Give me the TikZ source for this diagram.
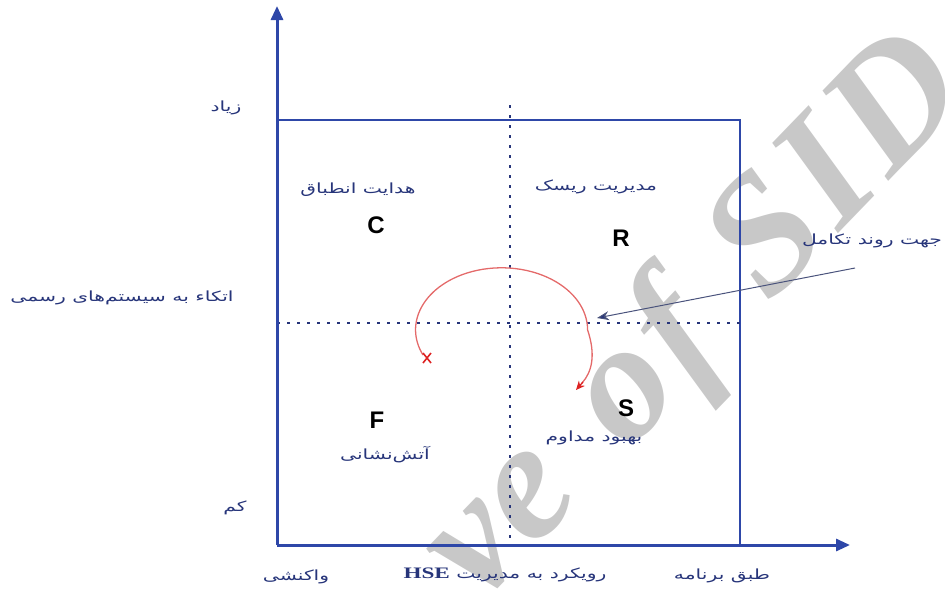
\documentclass[tikz,border=0pt]{standalone}
\usepackage{fontspec}
\setmainfont{Liberation Sans}
\newfontfamily\arabicfont[Script=Arabic]{DejaVu Sans}
\newfontfamily\wmfont{Liberation Serif}
\TeXXeTstate=1
\usetikzlibrary{arrows.meta}
\definecolor{axisblue}{HTML}{2E47A8}
\definecolor{navy}{HTML}{27357A}
\definecolor{arcred}{HTML}{E46A6A}
\definecolor{tipred}{HTML}{DD2222}
\definecolor{wm}{HTML}{C8C8C8}
\tikzset{
  axis/.style={draw=axisblue, line width=3pt},
  axisarrow/.style={axis, -{Triangle[length=14pt,width=12pt]}},
  box/.style={draw=axisblue, line width=2.6pt},
  dotline/.style={draw=navy, line width=2.2pt, dash pattern=on 3pt off 7pt},
  fa/.style={font=\arabicfont\fontsize{14}{15}\selectfont, text=navy, inner sep=1pt, xscale=1.45},
  letter/.style={font=\bfseries\fontsize{24}{26}\selectfont, text=black, inner sep=0pt},
}
\begin{document}
\begin{tikzpicture}[x=1pt,y=-1pt]
\useasboundingbox (0,0) rectangle (945,590);
% watermark
\node[text=wm, font=\wmfont\bfseries\itshape\fontsize{168}{168}\selectfont, rotate=46, anchor=south east, inner sep=0pt] (wmark) at (1000,118) {ve\hspace{0.12em} o\hspace{0.04em}f\hspace{0.1em} S\hspace{0.04em}I\hspace{0.04em}D};
% box and dotted lines
\coordinate (bl) at (277,545);
\draw[box] (277,120) -- (740,120) -- (740,545);
\coordinate (vt) at (510,105);
\coordinate (vb) at (510,545);
\coordinate (hl) at (277,323);
\coordinate (hr) at (740,323);
\draw[dotline] (vt) -- (vb);
\draw[dotline] (hl) -- (hr);
% axes
\coordinate (ytop) at (277,6);
\coordinate (xend) at (850,545);
\draw[axisarrow] (bl) -- (ytop);
\draw[axisarrow] (bl) -- (xend);
% red arc
\coordinate (arcstart) at (423,355);
\coordinate (arctip) at (576,390);
\draw[arcred, line width=1.3pt] (arcstart) arc[start angle=156, end angle=360, x radius=86, y radius=62]
  .. controls (596,355) and (592,372) .. (582,383);
\draw[tipred, line width=1.3pt, -{Stealth[length=9pt,width=8pt]}] (583,382) -- (arctip);
\draw[tipred, line width=1.6pt] (423,353) -- (431,363) (431,353) -- (423,363);
% evolution arrow
\coordinate (evs) at (855,268);
\coordinate (eve) at (597,318);
\draw[draw=navy!60!gray, line width=1pt, -{Stealth[length=12pt,width=9pt,fill=navy]}] (evs) -- (eve);
% letters
\node[letter] (C) at (376,225) {C};
\node[letter] (R) at (621,238) {R};
\node[letter] (F) at (377,420) {F};
\node[letter] (S) at (626,408) {S};
% texts
\node[fa] (high) at (226,108) {\beginR زیاد\endR};
\node[fa] (low) at (235,508) {\beginR کم\endR};
\node[fa] (ylab) at (122,298) {\beginR اتکاء به سیستم‌های رسمی\endR};
\node[fa] (tc) at (358,190) {\beginR هدایت انطباق\endR};
\node[fa] (tr2) at (596,187) {\beginR مدیریت ریسک\endR};
\node[fa] (tf) at (385,455) {\beginR آتش‌نشانی\endR};
\node[fa] (ts) at (594,438) {\beginR بهبود مداوم\endR};
\node[fa] (tev) at (872,241) {\beginR جهت روند تکامل\endR};
\node[fa] (xl) at (296,577) {\beginR واکنشی\endR};
\node[fa] (xm) at (505,575) {\beginR رویکرد به مدیریت \beginL{\wmfont\bfseries\fontsize{16}{16}\selectfont HSE}\endL\endR};
\node[fa] (xr) at (722,576) {\beginR طبق برنامه\endR};
\end{tikzpicture}
\end{document}
